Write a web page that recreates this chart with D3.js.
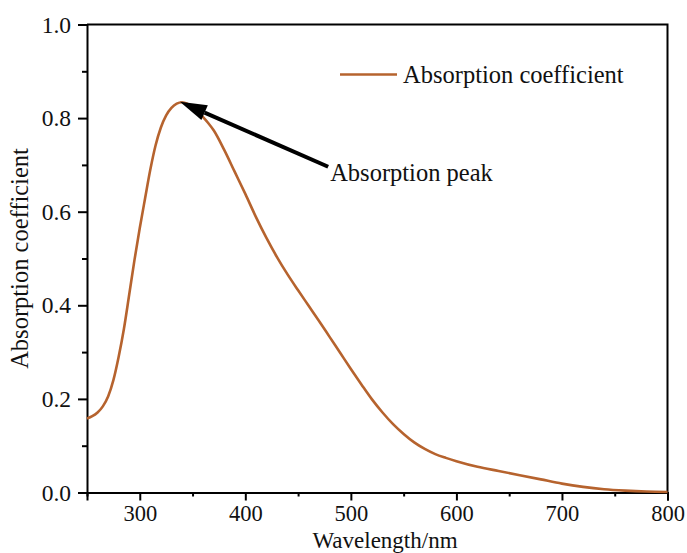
<!DOCTYPE html>
<html>
<head>
<meta charset="utf-8">
<script src="https://cdn.jsdelivr.net/npm/d3@7"></script>
<style>
  html, body { margin: 0; padding: 0; background: #fff; }
  svg { display: block; }
  text { font-family: "Liberation Serif", "Times New Roman", serif; fill: #111; }
</style>
</head>
<body>
<svg id="chart" width="687" height="553"></svg>
<script>
// Absorption spectrum: wavelength (nm) and absorption coefficient
const wavelengths = [250, 255, 260, 265, 270, 275, 280, 285, 290, 295, 300, 305, 310, 315, 320, 325, 330, 335, 340, 345, 350, 355, 360, 365, 370, 380, 390, 400, 410, 420, 430, 440, 450, 460, 470, 480, 490, 500, 510, 520, 530, 540, 550, 560, 570, 580, 590, 600, 620, 640, 660, 680, 700, 720, 740, 760, 780, 800];
const absorption  = [0.158, 0.163, 0.171, 0.184, 0.205, 0.240, 0.290, 0.350, 0.423, 0.497, 0.565, 0.628, 0.690, 0.742, 0.780, 0.806, 0.822, 0.831, 0.834, 0.831, 0.824, 0.814, 0.802, 0.789, 0.774, 0.732, 0.685, 0.638, 0.589, 0.544, 0.503, 0.466, 0.432, 0.399, 0.366, 0.332, 0.298, 0.264, 0.231, 0.199, 0.171, 0.146, 0.125, 0.107, 0.093, 0.082, 0.074, 0.067, 0.055, 0.046, 0.037, 0.028, 0.019, 0.012, 0.007, 0.004, 0.002, 0.001];

const xTicks = [300, 400, 500, 600, 700, 800];
const xMinorTicks = [250, 350, 450, 550, 650, 750];
const yTicks = [0.0, 0.2, 0.4, 0.6, 0.8, 1.0];
const yMinorTicks = [0.1, 0.3, 0.5, 0.7, 0.9];

const seriesName = "Absorption coefficient";
const xTitle = "Wavelength/nm";
const yTitle = "Absorption coefficient";
const peakLabel = "Absorption peak";
// arrow from label position to the spectral peak (data units)
const arrowTail = [478.5, 0.696];
const arrowHead = [338, 0.835];

const svg = d3.select("#chart");
const plotL = 87, plotR = 667.5, plotT = 24.5, plotB = 492.5;
const lineColor = "#b6632e";
const labelSize = "24.5px";

const x = d3.scaleLinear().domain([250, 800]).range([plotL, plotR]);
const y = d3.scaleLinear().domain([0, 1]).range([plotB, plotT]);

// frame (top and right edges without ticks)
svg.append("path")
  .attr("d", `M${plotL},${plotT}H${plotR}V${plotB}`)
  .attr("fill", "none").attr("stroke", "#000").attr("stroke-width", 2);

// bottom axis
svg.append("g").attr("class", "xaxis").attr("transform", `translate(0,${plotB})`)
  .call(d3.axisBottom(x).tickValues(xTicks).tickFormat(d3.format("d")).tickSize(8).tickPadding(5));
svg.append("g").attr("transform", `translate(0,${plotB})`)
  .call(d3.axisBottom(x).tickValues(xMinorTicks).tickFormat("").tickSize(4))
  .select(".domain").remove();

// left axis
svg.append("g").attr("class", "yaxis").attr("transform", `translate(${plotL},0)`)
  .call(d3.axisLeft(y).tickValues(yTicks).tickFormat(d3.format(".1f")).tickSize(9).tickPadding(7));
svg.append("g").attr("transform", `translate(${plotL},0)`)
  .call(d3.axisLeft(y).tickValues(yMinorTicks).tickFormat("").tickSize(5))
  .select(".domain").remove();

svg.selectAll(".domain").attr("stroke", "#000").attr("stroke-width", 2);
svg.selectAll(".tick line").attr("stroke", "#000").attr("stroke-width", 2);
svg.selectAll(".tick text")
  .style("font-family", '"Liberation Serif", "Times New Roman", serif')
  .attr("fill", "#111");
svg.selectAll(".xaxis .tick text").style("font-size", "22.5px");
svg.selectAll(".yaxis .tick text").style("font-size", "23.5px");

// spectrum curve
const pts = wavelengths.map((w, i) => [w, absorption[i]]);
const line = d3.line().x(d => x(d[0])).y(d => y(d[1])).curve(d3.curveMonotoneX);
svg.append("path").datum(pts)
  .attr("d", line)
  .attr("fill", "none")
  .attr("stroke", lineColor)
  .attr("stroke-width", 2.6)
  .attr("stroke-linejoin", "round");

// annotation arrow
const tx = x(arrowTail[0]), ty = y(arrowTail[1]);
const hx = x(arrowHead[0]), hy = y(arrowHead[1]);
const ang = Math.atan2(hy - ty, hx - tx);
const headLen = 27, headHalf = 8;
const bx = hx - headLen * Math.cos(ang), by = hy - headLen * Math.sin(ang);
svg.append("line")
  .attr("x1", tx).attr("y1", ty).attr("x2", bx).attr("y2", by)
  .attr("stroke", "#000").attr("stroke-width", 4);
svg.append("path")
  .attr("d", `M${hx},${hy}L${bx + headHalf * Math.sin(ang)},${by - headHalf * Math.cos(ang)}L${bx - headHalf * Math.sin(ang)},${by + headHalf * Math.cos(ang)}Z`)
  .attr("fill", "#000");
svg.append("text")
  .attr("x", tx + 2).attr("y", ty + 14)
  .style("font-size", labelSize)
  .text(peakLabel);

// legend
svg.append("line")
  .attr("x1", 340).attr("x2", 397).attr("y1", 74.5).attr("y2", 74.5)
  .attr("stroke", lineColor).attr("stroke-width", 2.6);
svg.append("text")
  .attr("x", 403).attr("y", 83)
  .style("font-size", labelSize)
  .text(seriesName);

// axis titles
svg.append("text")
  .attr("x", 385).attr("y", 547.5)
  .attr("text-anchor", "middle")
  .style("font-size", "23px")
  .text(xTitle);
svg.append("text")
  .attr("transform", `translate(28,${(plotT + plotB) / 2}) rotate(-90)`)
  .attr("text-anchor", "middle")
  .style("font-size", labelSize)
  .text(yTitle);
</script>
</body>
</html>
